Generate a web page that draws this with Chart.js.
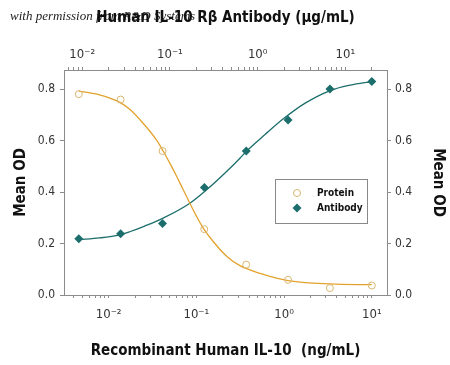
<!DOCTYPE html>
<html>
<head>
<meta charset="utf-8">
<script src="https://cdn.jsdelivr.net/npm/chart.js@4.4.1/dist/chart.umd.min.js"></script>
<style>
  html, body { margin: 0; padding: 0; background: #fff; }
  #wrap { position: relative; width: 450px; height: 365px; }
</style>
</head>
<body>
<div id="wrap"><canvas id="chart" width="450" height="365"></canvas></div>
<script>
// ---- data ----
// Recombinant Human IL-10 (ng/mL), 3-fold dilutions
const proteinX = [0.00457, 0.0137, 0.0412, 0.123, 0.370, 1.11, 3.33, 10];
const proteinY = [0.781, 0.760, 0.560, 0.256, 0.118, 0.059, 0.027, 0.037];
// Human IL-10 Rb Antibody (ug/mL)
const antibodyX = [0.00914, 0.0274, 0.0823, 0.247, 0.741, 2.22, 6.67, 20];
const antibodyY = [0.219, 0.238, 0.278, 0.418, 0.560, 0.681, 0.801, 0.830];

// fitted curves
const proteinFitX = [0.00457, 0.00789, 0.0134, 0.0174, 0.0247, 0.0351, 0.0418, 0.0498, 0.0594,
                     0.0706, 0.0844, 0.1004, 0.1197, 0.1556, 0.2213, 0.314, 0.532, 1.074, 3.36, 10];
const proteinFitY = [0.793, 0.778, 0.749, 0.722, 0.668, 0.603, 0.560, 0.513, 0.463,
                     0.410, 0.357, 0.306, 0.260, 0.208, 0.151, 0.114, 0.084, 0.057, 0.043, 0.040];
const antibodyFitX = [0.00914, 0.0158, 0.0267, 0.0348, 0.0515, 0.0836, 0.169, 0.262, 0.461,
                      0.628, 0.75, 1.213, 1.96, 3.48, 6.72, 11.35, 20];
const antibodyFitY = [0.215, 0.222, 0.234, 0.246, 0.268, 0.299, 0.357, 0.409, 0.486,
                      0.532, 0.560, 0.624, 0.685, 0.746, 0.795, 0.816, 0.830];

// ticks
const logTicks = [0.01, 0.1, 1, 10];
const logTickLabels = ['10⁻²', '10⁻¹', '10⁰', '10¹'];
const odTicks = [0, 0.2, 0.4, 0.6, 0.8];

const FONT = "'DejaVu Sans Condensed', 'Liberation Sans Narrow', sans-serif";
const AXIS_GREY = '#8c8c8c';
const ORANGE = '#e3a22e';
const ORANGE_PT = '#d9b66f';
const TEAL = '#1b6e6b';

function toPoints(xs, ys) {
    return xs.map((x, i) => ({ x: x, y: ys[i] }));
}

// major + minor tick positions for a log axis
function logAxisTicks(axis) {
    const out = [];
    for (let e = -4; e <= 2; e++) {
        for (let m = 1; m <= 9; m++) {
            const v = m * Math.pow(10, e);
            if (v >= axis.min && v <= axis.max) out.push({ value: v });
        }
    }
    axis.ticks = out;
}

function logLabel(v) {
    const i = logTicks.findIndex(t => Math.abs(t - v) / t < 1e-6);
    return i >= 0 ? logTickLabels[i] : '';
}

function logScale(position, min, max, title, titlePad, labelPad) {
    return {
        type: 'logarithmic',
        position: position,
        min: min,
        max: max,
        afterBuildTicks: logAxisTicks,
        afterFit: (s) => { s.height = 70; },
        border: { display: true, color: AXIS_GREY, width: 1 },
        grid: { drawOnChartArea: false, drawTicks: true, tickLength: 3, tickColor: AXIS_GREY },
        ticks: {
            autoSkip: false,
            maxRotation: 0,
            padding: labelPad,
            color: '#333',
            font: { family: FONT, size: 13 },
            callback: (v) => logLabel(v)
        },
        title: {
            display: true,
            text: title,
            color: '#111',
            padding: titlePad,
            font: { family: FONT, size: 15, weight: 'bold' }
        }
    };
}

function odScale(position, width, titlePad, labelPad) {
    return {
        type: 'linear',
        position: position,
        min: 0,
        max: 0.875,
        afterBuildTicks: (axis) => { axis.ticks = odTicks.map(v => ({ value: v })); },
        afterFit: (s) => { s.width = width; },
        border: { display: true, color: AXIS_GREY, width: 1 },
        grid: { drawOnChartArea: false, drawTicks: true, tickLength: 4, tickColor: AXIS_GREY },
        ticks: {
            padding: labelPad,
            color: '#333',
            font: { family: FONT, size: 12 },
            callback: (v) => v.toFixed(1)
        },
        title: {
            display: true,
            text: 'Mean OD',
            color: '#111',
            padding: titlePad,
            font: { family: FONT, size: 15, weight: 'bold' }
        }
    };
}

// watermark text behind everything
const watermark = {
    id: 'watermark',
    beforeDraw(chart) {
        const ctx = chart.ctx;
        ctx.save();
        ctx.font = "italic 13px 'Liberation Serif', 'DejaVu Serif', serif";
        ctx.fillStyle = '#222';
        ctx.textBaseline = 'alphabetic';
        ctx.fillText('with permission from R&D Systems', 10, 20);
        ctx.restore();
    }
};

// boxed legend inside the plot, only for the point series
const legendBox = {
    id: 'legendBox',
    afterDatasetsDraw(chart) {
        const ctx = chart.ctx;
        const a = chart.chartArea;
        const bx = a.left + 211, by = a.top + 109, bw = 92, bh = 44;
        ctx.save();
        ctx.fillStyle = '#fff';
        ctx.fillRect(bx, by, bw, bh);
        ctx.strokeStyle = '#888';
        ctx.lineWidth = 1;
        ctx.strokeRect(bx + 0.5, by + 0.5, bw, bh);

        const items = chart.data.datasets.filter(d => d.inLegend);
        items.forEach((d, i) => {
            const mx = bx + 22, my = by + 14 + i * 15;
            ctx.beginPath();
            if (d.pointStyle === 'rectRot') {
                const r = d.pointRadius;
                ctx.moveTo(mx, my - r);
                ctx.lineTo(mx + r, my);
                ctx.lineTo(mx, my + r);
                ctx.lineTo(mx - r, my);
                ctx.closePath();
                ctx.fillStyle = d.pointBackgroundColor;
                ctx.fill();
            } else {
                ctx.arc(mx, my, d.pointRadius, 0, Math.PI * 2);
                ctx.strokeStyle = d.pointBorderColor;
                ctx.lineWidth = d.pointBorderWidth;
                ctx.stroke();
            }
            ctx.fillStyle = '#111';
            ctx.font = 'bold 10px ' + FONT;
            ctx.textBaseline = 'middle';
            ctx.fillText(d.label, bx + 42, my);
        });
        ctx.restore();
    }
};

new Chart(document.getElementById('chart'), {
    type: 'scatter',
    data: {
        datasets: [
            {
                label: 'Protein',
                inLegend: true,
                data: toPoints(proteinX, proteinY),
                xAxisID: 'x',
                yAxisID: 'y',
                pointStyle: 'circle',
                pointRadius: 3.5,
                pointBorderWidth: 1,
                pointBorderColor: ORANGE_PT,
                pointBackgroundColor: 'rgba(255,255,255,0)',
                showLine: false
            },
            {
                label: 'Antibody',
                inLegend: true,
                data: toPoints(antibodyX, antibodyY),
                xAxisID: 'x2',
                yAxisID: 'y',
                pointStyle: 'rectRot',
                pointRadius: 4.5,
                pointBorderWidth: 0,
                pointBorderColor: TEAL,
                pointBackgroundColor: TEAL,
                showLine: false
            },
            {
                label: 'Protein fit',
                data: toPoints(proteinFitX, proteinFitY),
                xAxisID: 'x',
                yAxisID: 'y',
                showLine: true,
                borderColor: ORANGE,
                borderWidth: 1.3,
                pointRadius: 0,
                cubicInterpolationMode: 'monotone'
            },
            {
                label: 'Antibody fit',
                data: toPoints(antibodyFitX, antibodyFitY),
                xAxisID: 'x2',
                yAxisID: 'y',
                showLine: true,
                borderColor: TEAL,
                borderWidth: 1.3,
                pointRadius: 0,
                cubicInterpolationMode: 'monotone'
            }
        ]
    },
    options: {
        responsive: false,
        animation: false,
        layout: { padding: 0 },
        plugins: {
            legend: { display: false },
            tooltip: { enabled: false }
        },
        scales: {
            x: logScale('bottom', 0.0031, 14.9, 'Recombinant Human IL-10  (ng/mL)', { top: 0, bottom: 5 }, 9),
            x2: logScale('top', 0.0062, 29.8, 'Human IL-10 R\u03B2 Antibody (\u03BCg/mL)', { top: 9, bottom: 0 }, 5),
            y: odScale('left', 64, { top: 12, bottom: 0 }, 5),
            y2: odScale('right', 63, { top: 3, bottom: 0 }, 4)
        }
    },
    plugins: [watermark, legendBox]
});
</script>
</body>
</html>
